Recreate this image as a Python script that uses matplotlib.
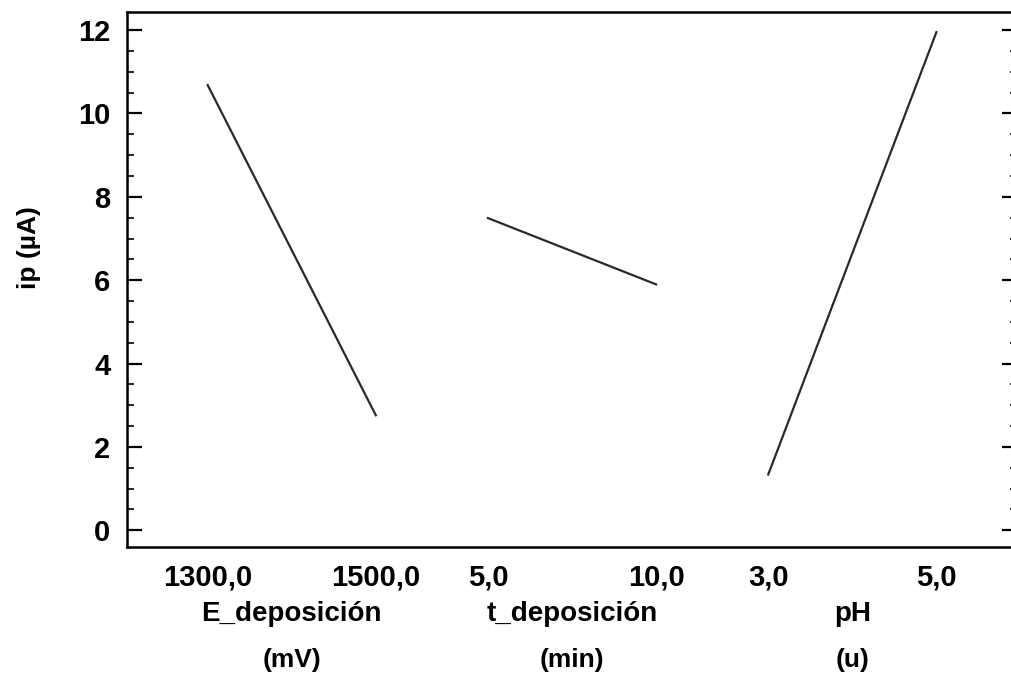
import numpy as np
import matplotlib.pyplot as plt

# main effects plot for ip
factors = ["E_deposición", "t_deposición", "pH"]
units = ["(mV)", "(min)", "(u)"]
low_labels = ["1300,0", "5,0", "3,0"]
high_labels = ["1500,0", "10,0", "5,0"]
ip_low = [10.68, 7.49, 1.34]
ip_high = [2.76, 5.90, 11.95]

plt.rcParams['font.family'] = ['Liberation Sans', 'DejaVu Sans']

fig = plt.figure(figsize=(10.11, 6.75), dpi=100)
ax = fig.add_axes([0.1256, 0.1896, 0.8806, 0.7924])

step = 1.667  # spacing between factor blocks
xticks = []
xlabels = []
for i in range(len(factors)):
    x0 = i * step
    ax.plot([x0, x0 + 1], [ip_low[i], ip_high[i]], color='#2a2a2a', lw=1.6)
    xticks += [x0, x0 + 1]
    xlabels += [low_labels[i], high_labels[i]]
    ax.text(x0 + 0.5, -0.125, factors[i], transform=ax.get_xaxis_transform(),
            ha='center', va='center', fontsize=20, fontweight='bold')
    ax.text(x0 + 0.5, -0.212, units[i], transform=ax.get_xaxis_transform(),
            ha='center', va='center', fontsize=19, fontweight='bold')

ax.set_xlim(-0.48, 4.815)
ax.set_ylim(-0.4, 12.43)
ax.set_xticks(xticks)
ax.set_xticklabels(xlabels, fontsize=21, fontweight='bold')
ax.set_yticks(np.arange(0, 13, 2))
ax.set_yticklabels([str(v) for v in range(0, 13, 2)], fontsize=21, fontweight='bold')
ax.set_yticks(np.arange(0, 12.01, 0.5), minor=True)

ax.tick_params(axis='x', length=0, pad=12)
ax.tick_params(axis='y', which='major', direction='in', length=11, width=1.6,
               left=True, right=True, pad=12)
ax.tick_params(axis='y', which='minor', direction='in', length=5, width=1.2,
               left=True, right=True)

for s in ax.spines.values():
    s.set_linewidth(1.8)

ax.set_ylabel("ip (µA)", fontsize=19, fontweight='bold')
ax.yaxis.set_label_coords(-0.097, 0.56)

fig.savefig("out.png", dpi=100)
